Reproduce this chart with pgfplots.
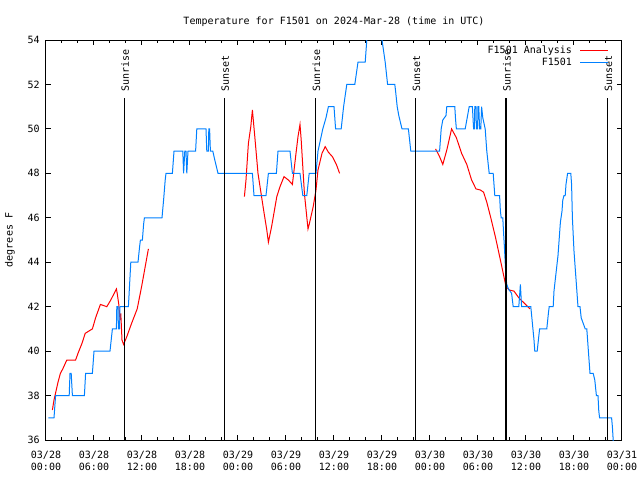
\documentclass[border=0pt]{standalone}
\usepackage{fontspec}
\setmainfont{DejaVu Sans Mono}
\usepackage{pgfplots}
\pgfplotsset{compat=1.18}
\definecolor{obsblue}{RGB}{0,128,255}
\newcommand{\gfont}{\fontsize{7.5}{9.4}\selectfont}
\begin{document}
\begin{tikzpicture}
\begin{axis}[
  at={(34.5pt,30pt)}, anchor=south west,
  scale only axis, width=432pt, height=300pt,
  xmin=0, xmax=72, ymin=36, ymax=54,
  xtick={0,6,...,72}, minor x tick num=2,
  ytick={36,38,...,54},
  xticklabels={{03/28\\00:00},{03/28\\06:00},{03/28\\12:00},{03/28\\18:00},{03/29\\00:00},{03/29\\06:00},{03/29\\12:00},{03/29\\18:00},{03/30\\00:00},{03/30\\06:00},{03/30\\12:00},{03/30\\18:00},{03/31\\00:00}},
  xticklabel style={align=center, font=\gfont, anchor=north, inner sep=0pt, yshift=-7.8pt},
  yticklabel style={font=\gfont, anchor=east, inner sep=0pt, xshift=-4.5pt},
  /pgf/number format/assume math mode=true,
  axis line style={black, line width=0.75pt},
  tick style={black, line width=0.75pt},
  major tick length=3.75pt, minor tick length=2pt,
  title={Temperature for F1501 on 2024-Mar-28 (time in UTC)},
  title style={font=\gfont, at={(0.5,1)}, anchor=base, yshift=6pt, inner sep=0pt},
  ylabel={degrees F},
  ylabel style={font=\gfont, at={(axis description cs:-0.0625,0.5)}, anchor=center, inner sep=0pt},
  legend cell align=right,
  legend plot pos=right,
  legend image code/.code={\draw[#1] (0pt,0pt) -- (21pt,0pt);},
  legend style={draw=none, fill=none, font=\gfont, at={(1,1)}, anchor=north east,
    xshift=-9.75pt, yshift=-3.75pt, inner sep=0pt, row sep=2pt, column sep=5.8pt,
    nodes={inner sep=0pt, text height=6pt, text depth=1.5pt}},
]
% Analysis (red)
\addplot[red, line width=0.75pt, sharp plot] coordinates {
(0.8,37.35) (1.0,37.8) (1.25,38.2) (1.5,38.6) (1.8,39.0) (2.1,39.2) (2.6,39.6) (3.1,39.6) (3.7,39.6)
(4.0,39.9) (4.5,40.35) (4.9,40.8) (5.8,41.0) (6.2,41.5) (6.8,42.1) (7.6,42.0) (8.1,42.3) (8.8,42.8)
(8.9,42.6) (9.1,42.1) (9.25,41.4) (9.35,41.7) (9.5,40.5) (9.7,40.3) (10.1,40.65) (10.7,41.25)
(11.4,41.9) (11.95,42.9) (12.4,43.8) (12.8,44.6)
};
\addlegendentry{F1501 Analysis}
\addplot[red, line width=0.75pt, sharp plot, forget plot] coordinates {
(24.8,46.95) (25.0,47.7) (25.3,49.35) (25.6,50.1) (25.8,50.85) (26.1,49.65) (26.5,48.0) (27.2,46.35)
(27.6,45.45) (27.8,44.9) (28.2,45.6) (28.85,46.95) (29.25,47.4) (29.75,47.85) (30.3,47.7) (30.8,47.5)
(31.25,48.9) (31.5,49.65) (31.75,50.2) (31.9,49.5) (32.3,47.1) (32.75,45.5) (32.9,45.7) (33.4,46.5)
(33.75,47.25) (34.0,48.15) (34.5,48.9) (34.9,49.2) (35.3,48.95) (35.8,48.75) (36.3,48.4) (36.7,48.0)
};
\addplot[red, line width=0.75pt, sharp plot, forget plot] coordinates {
(48.7,49.1) (49.2,48.75) (49.6,48.4) (50.1,49.05) (50.7,50.0) (51.3,49.6) (51.95,48.9) (52.6,48.4)
(53.2,47.7) (53.75,47.3) (54.3,47.25) (54.7,47.15) (55.1,46.7) (55.6,46.0) (56.2,45.1) (56.8,44.1)
(57.3,43.25) (57.5,42.9) (57.9,42.75) (58.5,42.7) (59.1,42.4) (59.8,42.15) (60.5,41.9)
};
% Observations (blue)
\addplot[obsblue, line width=0.75pt, sharp plot] coordinates {
(0.3,37) (1.0,37) (1.2,38) (2.9,38) (3.0,39) (3.15,39) (3.3,38) (4.8,38) (4.95,39) (5.8,39) (6.0,40)
(8.0,40) (8.3,41) (8.8,41) (8.85,42) (9.0,42) (9.05,41) (9.2,41) (9.25,42) (10.3,42) (10.45,43)
(10.6,44) (11.5,44) (11.7,44.7) (11.8,45) (12.05,45) (12.2,45.7) (12.3,46) (14.5,46) (14.7,46.8)
(14.9,47.7) (15.0,48) (15.8,48) (16.0,49) (17.1,49) (17.2,48) (17.35,49) (17.5,49) (17.6,48)
(17.75,49) (18.7,49) (18.85,50) (20.0,50) (20.1,49) (20.3,49) (20.35,50) (20.45,50) (20.55,49)
(20.85,49) (21.1,48.6) (21.5,48) (25.8,48) (26.0,47) (27.5,47) (27.8,48) (28.8,48) (29.0,49)
(30.5,49) (30.8,48) (31.75,48) (32.1,47) (32.6,47) (32.9,48) (33.75,48) (34.0,49) (34.3,49.5)
(34.6,50) (35.0,50.5) (35.3,51) (36.0,51) (36.2,50) (36.9,50) (37.2,51) (37.4,51.5) (37.6,52)
(38.6,52) (39.0,53) (39.9,53) (40.1,54) (40.3,54.6) (41.0,55) (41.8,54.6) (42.0,54) (42.2,53.5)
(42.4,53) (42.7,52) (43.6,52) (43.7,51.7) (43.9,51) (44.1,50.6) (44.5,50) (45.3,50) (45.6,49)
(49.2,49) (49.4,50) (49.6,50.4) (50.0,50.6) (50.1,51) (51.1,51) (51.2,50.4) (51.3,50) (52.4,50)
(52.9,51) (53.3,51) (53.45,50) (53.55,50) (53.6,51) (53.75,51) (53.8,50) (53.95,50) (54.0,51)
(54.1,51) (54.2,50) (54.35,50) (54.45,51) (54.6,50.5) (54.9,50) (55.1,49) (55.4,48) (55.9,48)
(56.1,47) (56.7,47) (56.8,46.3) (56.9,46) (57.1,46) (57.2,45.3) (57.3,44.7) (57.4,44) (57.5,43.3)
(57.6,43) (57.8,42.8) (58.2,42.6) (58.4,42) (59.1,42) (59.2,42.5) (59.3,43) (59.45,42) (60.6,42)
(60.8,41.25) (61.0,40.5) (61.1,40) (61.4,40) (61.7,41) (62.6,41) (62.8,41.7) (62.9,42) (63.4,42)
(63.5,42.7) (63.75,43.5) (64.0,44.3) (64.2,45.3) (64.3,45.8) (64.5,46.3) (64.6,46.8) (64.75,47)
(64.9,47) (65.0,47.5) (65.2,48) (65.6,48) (65.7,47.5) (65.8,46) (66.0,44.5) (66.3,43) (66.5,42)
(66.75,42) (66.9,41.5) (67.4,41) (67.6,41) (67.7,40.5) (67.9,39.5) (68.0,39) (68.4,39) (68.6,38.7)
(68.8,38) (69.0,38) (69.1,37.3) (69.2,37) (70.7,37) (70.8,36.6) (70.9,36) (71.0,35.5)
};
\addlegendentry{F1501}
% Sunrise / sunset markers
\addplot[black, line width=0.8pt, forget plot] coordinates {(9.79,36) (9.79,51.38)};
\addplot[black, line width=0.8pt, forget plot] coordinates {(22.3,36) (22.3,51.38)};
\addplot[black, line width=0.8pt, forget plot] coordinates {(33.7,36) (33.7,51.38)};
\addplot[black, line width=0.8pt, forget plot] coordinates {(46.2,36) (46.2,51.38)};
\addplot[black, line width=0.8pt, forget plot] coordinates {(57.5,36) (57.5,51.38)};
\addplot[black, line width=0.8pt, forget plot] coordinates {(70.2,36) (70.2,51.38)};
\node[rotate=90, anchor=west, inner sep=0pt, font=\gfont] at (axis cs:9.9,51.67) {Sunrise};
\node[rotate=90, anchor=west, inner sep=0pt, font=\gfont] at (axis cs:22.4,51.67) {Sunset};
\node[rotate=90, anchor=west, inner sep=0pt, font=\gfont] at (axis cs:33.8,51.67) {Sunrise};
\node[rotate=90, anchor=west, inner sep=0pt, font=\gfont] at (axis cs:46.3,51.67) {Sunset};
\node[rotate=90, anchor=west, inner sep=0pt, font=\gfont] at (axis cs:57.6,51.67) {Sunrise};
\node[rotate=90, anchor=west, inner sep=0pt, font=\gfont] at (axis cs:70.3,51.67) {Sunset};
\end{axis}
\pgfresetboundingbox
\path (0,0) rectangle (480pt,360pt);
\end{tikzpicture}
\end{document}
